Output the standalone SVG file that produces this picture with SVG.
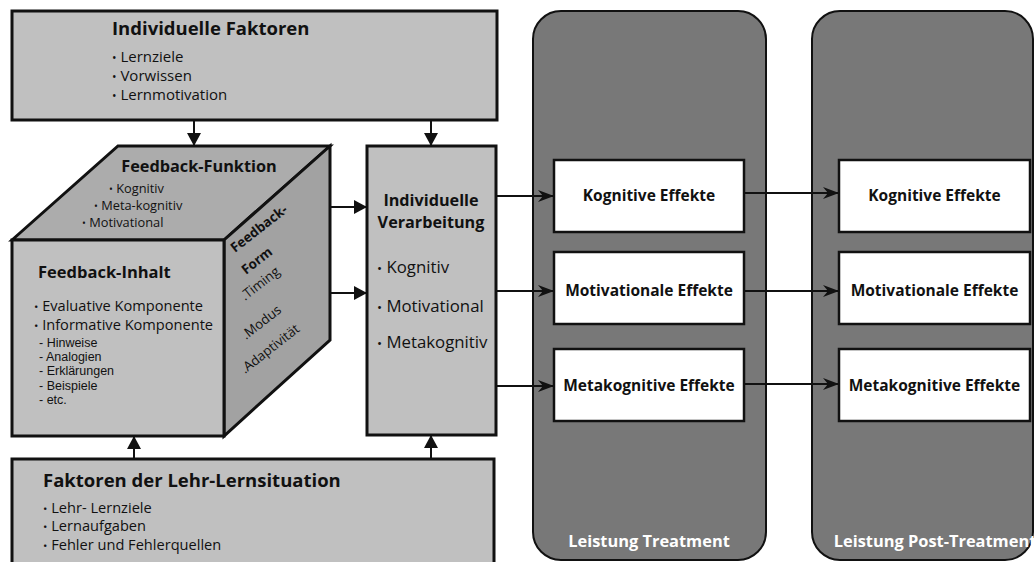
<svg xmlns="http://www.w3.org/2000/svg" width="1035" height="562" viewBox="0 0 1035 562">
<style>
text{font-family:"Open Sans","Noto Sans","Liberation Sans",sans-serif;fill:#111}
.b{font-weight:bold}
.bu{font-size:0.8em}
.sub{font-family:"Liberation Sans",Arial,sans-serif;font-size:12.5px}
.box{fill:#c0c0c0;stroke:#111;stroke-width:3}
.panel{fill:#787878;stroke:#111;stroke-width:2}
.eff{fill:#fff;stroke:#111;stroke-width:2.5}
.ln{stroke:#111;stroke-width:2;fill:none}
.et{font-weight:bold;font-size:15.5px;text-anchor:middle}
.wt{font-weight:bold;font-size:16.4px;text-anchor:middle;fill:#fff}
</style>
<defs>
<marker id="tri" markerUnits="userSpaceOnUse" viewBox="0 0 13 14" refX="13" refY="7" markerWidth="13" markerHeight="14" orient="auto"><path d="M0,0 L13,7 L0,14 z" fill="#111"/></marker>
<marker id="dart" markerUnits="userSpaceOnUse" viewBox="0 0 16 12" refX="16" refY="6" markerWidth="16" markerHeight="12" orient="auto"><path d="M0,0 L16,6 L0,12 L5,6 z" fill="#111"/></marker>
</defs>

<g id="panel-treatment">
<rect class="panel" x="533" y="11" width="233" height="549" rx="28"/>
<text class="wt" x="649" y="547">Leistung Treatment</text>
</g>
<g id="panel-post">
<rect class="panel" x="812" y="11" width="221" height="549" rx="28"/>
<text class="wt" x="935" y="547">Leistung Post-Treatment</text>
</g>

<g id="individuelle-faktoren">
<rect class="box" x="12" y="11" width="485" height="109"/>
<text class="b" x="112" y="35" font-size="18.5">Individuelle Faktoren</text>
<text x="112" y="62" font-size="15"><tspan class="bu">•</tspan> Lernziele</text>
<text x="112" y="81" font-size="15"><tspan class="bu">•</tspan> Vorwissen</text>
<text x="112" y="100" font-size="15"><tspan class="bu">•</tspan> Lernmotivation</text>
</g>

<g id="lehr-lernsituation">
<rect class="box" x="12" y="459" width="482" height="120"/>
<text class="b" x="43" y="487" font-size="18.5">Faktoren der Lehr-Lernsituation</text>
<text x="43" y="513" font-size="14.6"><tspan class="bu">•</tspan> Lehr- Lernziele</text>
<text x="43" y="531" font-size="14.6"><tspan class="bu">•</tspan> Lernaufgaben</text>
<text x="43" y="550" font-size="14.6"><tspan class="bu">•</tspan> Fehler und Fehlerquellen</text>
</g>

<g id="feedback-cube">
<polygon points="12,240 118,146 330,146 224,240" fill="#acacac" stroke="#111" stroke-width="3"/>
<polygon points="224,240 330,146 330,340 224,436" fill="#a2a2a2" stroke="#111" stroke-width="3"/>
<rect x="12" y="240" width="212" height="196" fill="#c0c0c0" stroke="#111" stroke-width="3"/>
<text class="b" x="199" y="172" font-size="16.3" text-anchor="middle">Feedback-Funktion</text>
<text x="109" y="193" font-size="12.8"><tspan class="bu">•</tspan> Kognitiv</text>
<text x="94" y="210" font-size="12.8"><tspan class="bu">•</tspan> Meta-kognitiv</text>
<text x="82" y="227" font-size="12.8"><tspan class="bu">•</tspan> Motivational</text>
<text class="b" x="38" y="278" font-size="16.5">Feedback-Inhalt</text>
<text x="34" y="311" font-size="14.6"><tspan class="bu">•</tspan> Evaluative Komponente</text>
<text x="34" y="330" font-size="14.6"><tspan class="bu">•</tspan> Informative Komponente</text>
<text class="sub" x="39" y="346.5">- Hinweise</text>
<text class="sub" x="39" y="360.9">- Analogien</text>
<text class="sub" x="39" y="375.3">- Erklärungen</text>
<text class="sub" x="39" y="389.7">- Beispiele</text>
<text class="sub" x="39" y="404.1">- etc.</text>
<text class="b" font-size="13.4" transform="translate(235,253) rotate(-38)">Feedback-</text>
<text class="b" font-size="13.4" transform="translate(246,275) rotate(-38)">Form</text>
<text font-size="13.3" transform="translate(245,301) rotate(-38)">.Timing</text>
<text font-size="13.3" transform="translate(246,340) rotate(-38)">.Modus</text>
<text font-size="13.3" transform="translate(245,374) rotate(-38)">.Adaptivität</text>
</g>

<g id="individuelle-verarbeitung">
<rect class="box" x="367" y="146" width="129" height="289"/>
<text class="b" x="431" y="205.5" font-size="16.2" text-anchor="middle">Individuelle</text>
<text class="b" x="431" y="228" font-size="16.2" text-anchor="middle">Verarbeitung</text>
<text x="377" y="273" font-size="16.8"><tspan class="bu">•</tspan> Kognitiv</text>
<text x="377" y="312" font-size="16.8"><tspan class="bu">•</tspan> Motivational</text>
<text x="377" y="348" font-size="16.8"><tspan class="bu">•</tspan> Metakognitiv</text>
</g>

<g id="effekte-treatment">
<rect class="eff" x="554" y="160" width="190" height="72"/>
<text class="et" x="649" y="201">Kognitive Effekte</text>
<rect class="eff" x="554" y="252" width="190" height="72"/>
<text class="et" x="649" y="296">Motivationale Effekte</text>
<rect class="eff" x="554" y="349" width="190" height="72"/>
<text class="et" x="649" y="391">Metakognitive Effekte</text>
</g>
<g id="effekte-post">
<rect class="eff" x="839" y="160" width="191" height="72"/>
<text class="et" x="934.5" y="201">Kognitive Effekte</text>
<rect class="eff" x="839" y="252" width="191" height="72"/>
<text class="et" x="934.5" y="296">Motivationale Effekte</text>
<rect class="eff" x="839" y="349" width="191" height="72"/>
<text class="et" x="934.5" y="391">Metakognitive Effekte</text>
</g>

<g id="connectors">
<line class="ln" x1="194" y1="121" x2="194" y2="146" marker-end="url(#tri)"/>
<line class="ln" x1="431" y1="121" x2="431" y2="146" marker-end="url(#tri)"/>
<line class="ln" x1="134" y1="458" x2="134" y2="436" marker-end="url(#tri)"/>
<line class="ln" x1="431" y1="458" x2="431" y2="435" marker-end="url(#tri)"/>
<line class="ln" x1="331" y1="207" x2="367" y2="207" marker-end="url(#tri)"/>
<line class="ln" x1="331" y1="293" x2="367" y2="293" marker-end="url(#tri)"/>
<line class="ln" x1="497" y1="196" x2="554" y2="196" marker-end="url(#dart)"/>
<line class="ln" x1="497" y1="291" x2="554" y2="291" marker-end="url(#dart)"/>
<line class="ln" x1="497" y1="386" x2="554" y2="386" marker-end="url(#dart)"/>
<line class="ln" x1="745" y1="193" x2="839" y2="193" marker-end="url(#dart)"/>
<line class="ln" x1="745" y1="291" x2="839" y2="291" marker-end="url(#dart)"/>
<line class="ln" x1="745" y1="384" x2="839" y2="384" marker-end="url(#dart)"/>
</g>
</svg>
